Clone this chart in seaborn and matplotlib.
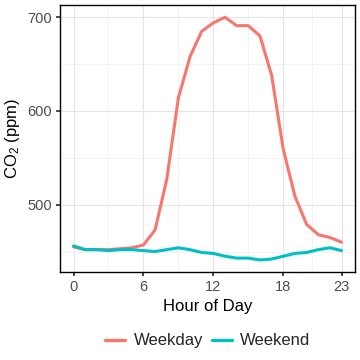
import matplotlib
matplotlib.use("Agg")
import matplotlib.pyplot as plt
import seaborn as sns
import pandas as pd
import numpy as np

hours = list(range(24))
weekday = [455, 452, 452, 452, 453, 454, 457, 473, 527, 614, 658, 685, 694, 700, 691, 691, 680, 638, 559, 509, 479, 468, 465, 460]
weekend = [456, 452, 452, 451, 452, 452, 451, 450, 452, 454, 452, 449, 448, 445, 443, 443, 441, 442, 445, 448, 449, 452, 454, 451]
groups = ["Weekday", "Weekend"]
colors = ["#F8766D", "#00BFC4"]
xticks = [0, 6, 12, 18, 23]
yticks = [500, 600, 700]

df = pd.DataFrame({
    "hour": hours * 2,
    "co2": weekday + weekend,
    "type": [groups[0]] * 24 + [groups[1]] * 24,
})

sns.set_theme(style="white")
plt.rcParams["font.family"] = ["Liberation Sans", "DejaVu Sans"]
plt.rcParams["mathtext.fontset"] = "custom"
plt.rcParams["mathtext.rm"] = "Liberation Sans"
plt.rcParams["mathtext.it"] = "Liberation Sans:italic"

fig = plt.figure(figsize=(3.6, 3.6), dpi=100)
ax = fig.add_axes([0.167, 0.244, 0.819, 0.742])
sns.lineplot(data=df, x="hour", y="co2", hue="type", palette=colors,
             hue_order=groups, linewidth=2.2, ax=ax, legend=False)

ax.set_xlim(-1.15, 24.15)
ax.set_ylim(428, 713)
ax.set_xticks(xticks)
ax.set_xticklabels([str(t) for t in xticks])
ax.set_yticks(yticks)
ax.set_xticks([3, 9, 15, 20.5], minor=True)
ax.set_yticks([450, 550, 650], minor=True)
ax.grid(True, which="major", color="#E5E5E5", linewidth=0.8)
ax.grid(True, which="minor", color="#EFEFEF", linewidth=0.5)
ax.set_axisbelow(True)
for s in ax.spines.values():
    s.set_color("black")
    s.set_linewidth(1.0)
ax.tick_params(axis="both", which="major", length=3, color="#333333",
               labelsize=10.5, labelcolor="#4D4D4D", bottom=True, left=True, pad=3)
ax.tick_params(axis="both", which="minor", length=0)
ax.set_xlabel("Hour of Day", fontsize=12, color="black", labelpad=3)
ax.set_ylabel("CO$_\\mathrm{2}$ (ppm)", fontsize=12, color="black", labelpad=4)

handles = [plt.Line2D([0], [0], color=c, linewidth=2.4) for c in colors]
fig.legend(handles, groups, loc="center", bbox_to_anchor=(0.577, 0.053),
           ncol=2, frameon=False, fontsize=12, handlelength=1.2,
           columnspacing=0.5, handletextpad=0.5)

fig.savefig("out.png", dpi=100)
